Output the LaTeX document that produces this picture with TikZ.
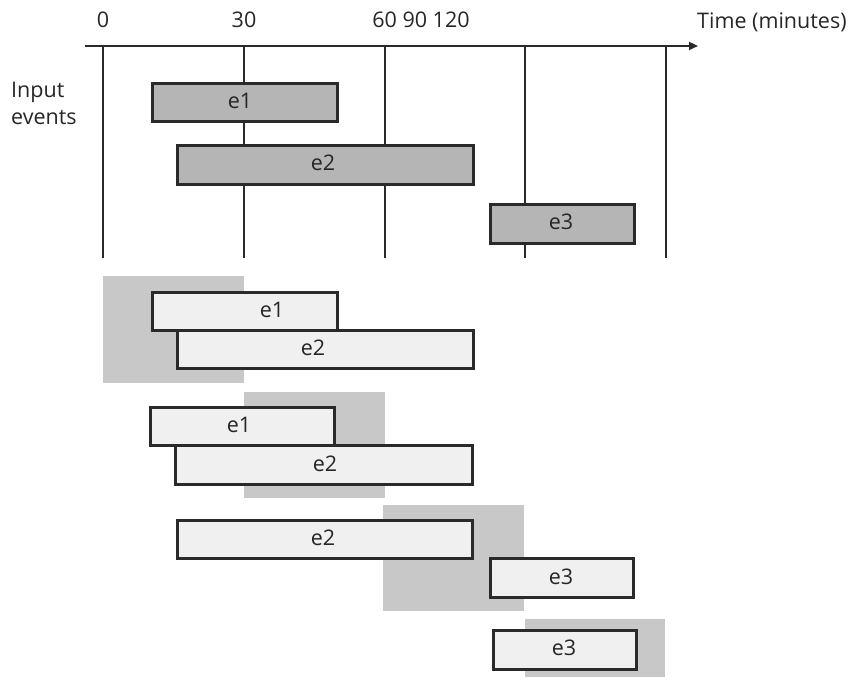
\documentclass[tikz,border=0pt]{standalone}
\usepackage{fontspec}
\setmainfont{Open Sans}
\usetikzlibrary{arrows.meta}
\definecolor{topfill}{HTML}{B5B5B5}
\definecolor{winfill}{HTML}{C8C8C8}
\definecolor{lightfill}{HTML}{F0F0F0}
\definecolor{edge}{HTML}{2A2A2A}
\tikzset{
  txt/.style={font=\fontsize{21.5}{25}\selectfont, text=black!85, inner sep=0pt},
  tick/.style={draw=edge, line width=2.8pt},
  topbox/.style={draw=edge, line width=3pt, fill=topfill, inner sep=0pt, anchor=north west},
  lowbox/.style={draw=edge, line width=3pt, fill=lightfill, inner sep=0pt, anchor=north west},
  winbox/.style={fill=winfill, draw=none, inner sep=0pt, anchor=north west},
}
\begin{document}
\begin{tikzpicture}[x=1pt,y=-1pt]
\useasboundingbox (0,0) rectangle (857,682);
% axis
\coordinate (axs) at (85,46);
\coordinate (axe) at (698,46);
\draw[draw=edge, line width=2.8pt, -{Triangle[length=9pt,width=8pt]}] (axs) -- (axe);
\foreach \n/\x in {a/103,b/244,c/385,d/525,e/666}{
  \coordinate (\n t) at (\x,46);
  \coordinate (\n b) at (\x,258);
  \draw[tick] (\n t) -- (\n b);
}
% axis labels
\node[txt] (l0) at (103,20) {0};
\node[txt] (l30) at (244,20) {30};
\node[txt] (l60) at (421,20) {60 90 120};
\node[txt, anchor=west] (ltime) at (697,22) {Time (minutes)};
\node[txt, anchor=west] (lin) at (11,92) {Input};
\node[txt, anchor=west] (lev) at (11,118) {events};
% top events
\node[topbox, minimum width=185pt, minimum height=38pt] (t1) at (151,82) {};
\node[txt] at (240,101) {e1};
\node[topbox, minimum width=296pt, minimum height=39pt] (t2) at (176,144) {};
\node[txt] at (323,163) {e2};
\node[topbox, minimum width=144pt, minimum height=39pt] (t3) at (489,203) {};
\node[txt] at (561,222) {e3};
% window 1
\node[winbox, minimum width=141pt, minimum height=107pt] (w1) at (103,276) {};
\node[lowbox, minimum width=185pt, minimum height=38pt] (a1) at (151,291) {};
\node[txt] at (272,310) {e1};
\node[lowbox, minimum width=296pt, minimum height=38pt] (a2) at (176,329) {};
\node[txt] at (313,348) {e2};
% window 2
\node[winbox, minimum width=141pt, minimum height=106pt] (w2) at (244,392) {};
\node[lowbox, minimum width=184pt, minimum height=38pt] (b1) at (149,406) {};
\node[txt] at (239,425) {e1};
\node[lowbox, minimum width=297pt, minimum height=39pt] (b2) at (174,444) {};
\node[txt] at (325,464) {e2};
% window 3
\node[winbox, minimum width=141pt, minimum height=106pt] (w3) at (383,505) {};
\node[lowbox, minimum width=295pt, minimum height=38pt] (c2) at (176,519) {};
\node[txt] at (323,538) {e2};
\node[lowbox, minimum width=143pt, minimum height=39pt] (c3) at (489,557) {};
\node[txt] at (561,577) {e3};
% window 4
\node[winbox, minimum width=140pt, minimum height=58pt] (w4) at (525,619) {};
\node[lowbox, minimum width=143pt, minimum height=39pt] (d3) at (492,629) {};
\node[txt] at (564,648) {e3};
\end{tikzpicture}
\end{document}
